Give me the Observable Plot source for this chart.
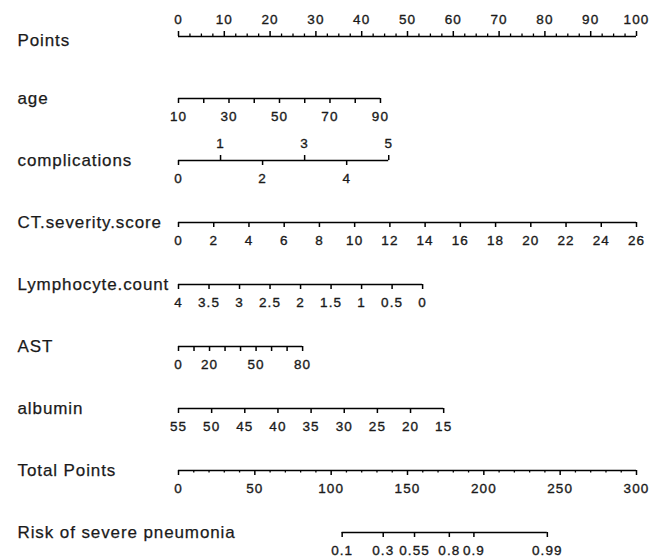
<!DOCTYPE html>
<html><head><meta charset="utf-8">
<script src="https://cdn.jsdelivr.net/npm/d3@7"></script>
<script src="https://cdn.jsdelivr.net/npm/@observablehq/plot@0.6"></script>
<style>
body{margin:0;background:#fff}
svg g[font-size="13.5"] text{letter-spacing:1.1px}
svg g[font-size="17"] text{letter-spacing:0.9px}
</style>
</head><body><div id="chart"></div>
<script>
// Row names (top to bottom)
const rows = ["Points","age","complications","CT.severity.score","Lymphocyte.count","AST","albumin","Total Points","Risk of severe pneumonia"];

// Points axis
const pointsMajor = [0,10,20,30,40,50,60,70,80,90,100];
const pointsMinor = d3.range(0, 100.001, 2.5).filter(v => v % 10 !== 0);

// age
const ageTicks = [10,20,30,40,50,60,70,80,90];
const ageLabels = [10,30,50,70,90];
const ageValueEnds = [10,90];
const agePointEnds = [0,44.1];

// complications
const compTicks = [0,1,2,3,4,5];
const compLabelsBelow = [0,2,4];
const compLabelsAbove = [1,3,5];
const compValueEnds = [0,5];
const compPointEnds = [0,45.9];

// CT.severity.score
const ctTicks = [0,2,4,6,8,10,12,14,16,18,20,22,24,26];
const ctValueEnds = [0,26];
const ctPointEnds = [0,100];

// Lymphocyte.count
const lymTicks = [4,3.5,3,2.5,2,1.5,1,0.5,0];
const lymValueEnds = [4,0];
const lymPointEnds = [0,53.3];

// AST
const astTicks = [0,10,20,30,40,50,60,70,80];
const astLabels = [0,20,50,80];
const astValueEnds = [0,80];
const astPointEnds = [0,27.1];

// albumin
const albTicks = [55,50,45,40,35,30,25,20,15];
const albValueEnds = [55,15];
const albPointEnds = [0,57.9];

// Total Points
const totalMajor = [0,50,100,150,200,250,300];
const totalMinor = [10,20,30,40,60,70,80,90,110,120,130,140,160,170,180,190,210,220,230,240,260,270,280,290];
const totalValueEnds = [0,300];
const totalPointEnds = [0,100];

// Risk of severe pneumonia: probability ticks and their total points
const riskLabels = [0.1,0.3,0.55,0.8,0.9,0.99];
const riskTotalPoints = [107.2,134.1,154.6,177.4,193.5,241.6];

// ---- build tables ----
const ticks = [];   // {row,pos,major,dir}
const labels = [];  // {row,pos,text,dir}
const lines = [];   // {row,x1,x2}

function addVar(row, tickVals, labelVals, vEnds, pEnds, opts = {}) {
  const s = d3.scaleLinear().domain(vEnds).range(pEnds);
  const above = opts.above || [];
  for (const v of tickVals) {
    const up = above.includes(v) || opts.allUp;
    ticks.push({row, pos: s(v), major: !(opts.minor || []).includes(v), dir: up ? "up" : "down"});
  }
  for (const v of labelVals) {
    const up = above.includes(v) || opts.allUp;
    labels.push({row, pos: s(v), text: String(v), dir: up ? "up" : "down"});
  }
  lines.push({row, x1: d3.min(tickVals, s), x2: d3.max(tickVals, s)});
}

addVar("Points", [...pointsMajor, ...pointsMinor], pointsMajor, [0,100], [0,100], {allUp: true, minor: pointsMinor});
addVar("age", ageTicks, ageLabels, ageValueEnds, agePointEnds);
addVar("complications", compTicks, [...compLabelsBelow, ...compLabelsAbove], compValueEnds, compPointEnds, {above: compLabelsAbove});
addVar("CT.severity.score", ctTicks, ctTicks, ctValueEnds, ctPointEnds);
addVar("Lymphocyte.count", lymTicks, lymTicks, lymValueEnds, lymPointEnds);
addVar("AST", astTicks, astLabels, astValueEnds, astPointEnds);
addVar("albumin", albTicks, albTicks, albValueEnds, albPointEnds);
addVar("Total Points", [...totalMajor, ...totalMinor], totalMajor, totalValueEnds, totalPointEnds, {minor: totalMinor});
{
  const s = d3.scaleLinear().domain(totalValueEnds).range(totalPointEnds);
  riskLabels.forEach((p, i) => {
    ticks.push({row: "Risk of severe pneumonia", pos: s(riskTotalPoints[i]), major: true, dir: "down"});
    labels.push({row: "Risk of severe pneumonia", pos: s(riskTotalPoints[i]), text: String(p), dir: "down"});
  });
  lines.push({row: "Risk of severe pneumonia", x1: s(d3.min(riskTotalPoints)), x2: s(d3.max(riskTotalPoints))});
}

const ink = "#000";
const txt = {fill: "#1a1a1a", stroke: "#1a1a1a", strokeWidth: 0.35};
const chart = Plot.plot({
  width: 660,
  height: 560,
  marginLeft: 178,
  marginRight: 24,
  marginTop: 36,
  marginBottom: 28,
  style: {fontFamily: "'Liberation Sans', Arial, sans-serif", background: "#fff", color: ink},
  x: {domain: [0, 100], axis: null},
  y: {type: "band", domain: rows, paddingInner: 1, paddingOuter: 0, axis: null},
  marks: [
    Plot.ruleY(lines, {y: "row", x1: "x1", x2: "x2", stroke: ink, strokeWidth: 1.6}),
    Plot.tickX(ticks.filter(d => d.dir === "down" && d.major), {x: "pos", y: "row", stroke: ink, strokeWidth: 1.5, insetTop: 0, insetBottom: -5}),
    Plot.tickX(ticks.filter(d => d.dir === "down" && !d.major), {x: "pos", y: "row", stroke: ink, strokeWidth: 1.3, insetTop: 0, insetBottom: -2.5}),
    Plot.tickX(ticks.filter(d => d.dir === "up" && d.major), {x: "pos", y: "row", stroke: ink, strokeWidth: 1.5, insetTop: -5, insetBottom: 0}),
    Plot.tickX(ticks.filter(d => d.dir === "up" && !d.major), {x: "pos", y: "row", stroke: ink, strokeWidth: 1.3, insetTop: -2.5, insetBottom: 0}),
    Plot.text(labels.filter(d => d.dir === "down"), {x: "pos", y: "row", text: "text", dy: 18, fontSize: 13.5, ...txt}),
    Plot.text(labels.filter(d => d.dir === "up"), {x: "pos", y: "row", text: "text", dy: -17, fontSize: 13.5, ...txt}),
    Plot.text(rows.filter(r => r !== "Points"), {y: d => d, text: d => d, frameAnchor: "left", textAnchor: "start", dx: -161, fontSize: 17, ...txt, strokeWidth: 0.25}),
    Plot.text(["Points"], {y: d => d, text: d => d, frameAnchor: "left", textAnchor: "start", dx: -161, dy: 4, fontSize: 17, ...txt, strokeWidth: 0.25})
  ]
});
document.getElementById("chart").appendChild(chart);
</script>
</body></html>
